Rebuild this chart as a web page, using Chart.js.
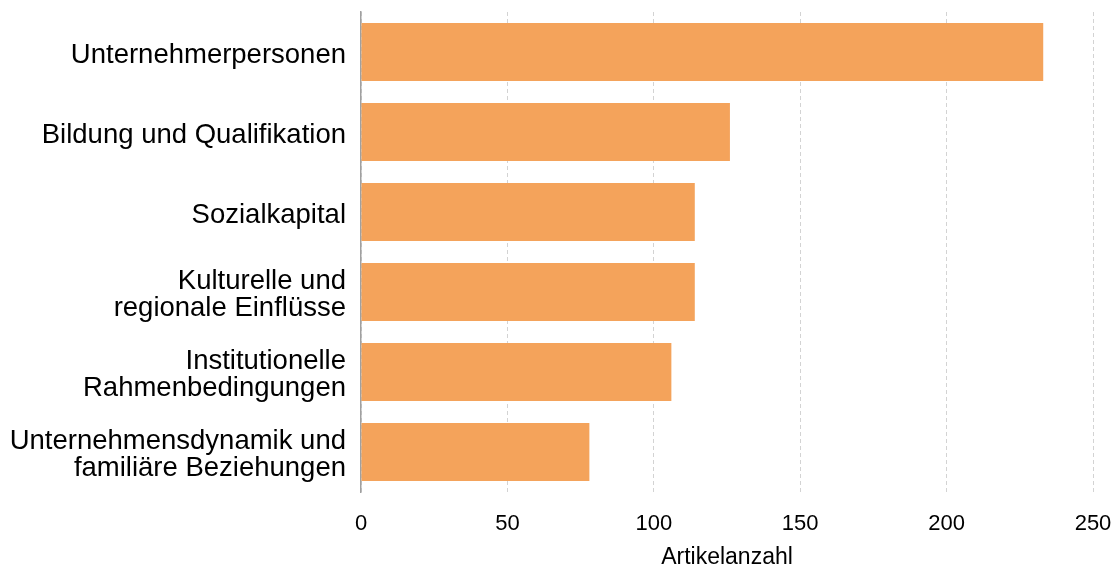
<!DOCTYPE html>
<html lang="de">
<head>
  <meta charset="UTF-8" />
  <title>Artikelanzahl nach Thema</title>
  <script src="https://cdn.jsdelivr.net/npm/chart.js"></script>
  <style>
    html, body { margin: 0; padding: 0; background: #fff; }
    #wrap { width: 1120px; height: 570px; position: relative; }
  </style>
</head>
<body>
  <div id="wrap"><canvas id="chart"></canvas></div>
  <script>
    const categories = [
      "Unternehmerpersonen",
      "Bildung und Qualifikation",
      "Sozialkapital",
      ["Kulturelle und", "regionale Einflüsse"],
      ["Institutionelle", "Rahmenbedingungen"],
      ["Unternehmensdynamik und", "familiäre Beziehungen"]
    ];
    const articleCounts = [233, 126, 114, 114, 106, 78];
    const xTicks = [0, 50, 100, 150, 200, 250];

    const FONT = "'Liberation Sans', Arial, sans-serif";

    new Chart(document.getElementById("chart"), {
      type: "bar",
      data: {
        labels: categories,
        datasets: [{
          label: "Artikelanzahl",
          data: articleCounts,
          backgroundColor: "#f4a35b",
          borderWidth: 0,
          barPercentage: 0.725,
          categoryPercentage: 1
        }]
      },
      options: {
        indexAxis: "y",
        responsive: true,
        maintainAspectRatio: false,
        animation: false,
        layout: { padding: { top: 12, right: 27, bottom: 0, left: 0 } },
        plugins: {
          legend: { display: false },
          tooltip: { enabled: false }
        },
        scales: {
          x: {
            min: xTicks[0],
            max: xTicks[xTicks.length - 1],
            afterBuildTicks: axis => { axis.ticks = xTicks.map(v => ({ value: v })); },
            afterFit: axis => {
              axis.height = 78;
              axis.paddingLeft = 0;
              axis.paddingRight = 0;
              axis.paddingTop = 0;
              axis.paddingBottom = 0;
            },
            grid: { color: "#d3d3d3", lineWidth: 1, drawTicks: false },
            border: { display: false, dash: [4, 3] },
            ticks: { color: "#000", padding: 19, font: { family: FONT, size: 22 } },
            title: {
              display: true,
              text: "Artikelanzahl",
              color: "#000",
              padding: { top: 6, bottom: 1 },
              font: { family: FONT, size: 23, lineHeight: 1.0 }
            }
          },
          y: {
            afterFit: axis => {
              axis.width = 361;
              axis.paddingTop = 0;
              axis.paddingBottom = 0;
            },
            grid: { display: false, drawTicks: false },
            border: { display: true, color: "#a0a0a0", width: 1.5 },
            ticks: {
              color: "#000",
              padding: 15,
              labelOffset: 3,
              font: { family: FONT, size: 27.5, lineHeight: 1.0 }
            }
          }
        }
      }
    });
  </script>
</body>
</html>
